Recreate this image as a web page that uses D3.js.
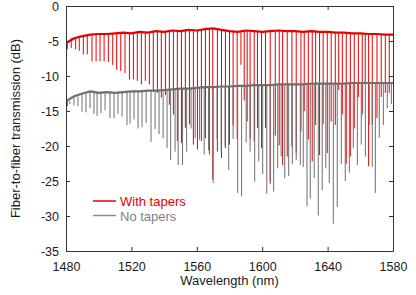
<!DOCTYPE html>
<html>
<head>
<meta charset="utf-8">
<script src="https://cdn.jsdelivr.net/npm/d3@7"></script>
<style>
  body { margin: 0; background: #fff; }
  svg { font-family: "Liberation Sans", Arial, sans-serif; }
</style>
</head>
<body>
<div id="chart"></div>
<script>
// tick labels (the last one really reads 1580 in the figure)
const xTickVals = [1480, 1520, 1560, 1600, 1640, 1680];
const xTickLabels = ["1480", "1520", "1560", "1600", "1640", "1580"];
const yTickVals = [0, -5, -10, -15, -20, -25, -30, -35];

// baseline of both traces, sampled every 5 nm
const baseNm = [1480,1485,1490,1495,1500,1505,1510,1515,1520,1525,1530,1535,1540,1545,1550,1555,1560,1565,1570,1575,
  1580,1585,1590,1595,1600,1605,1610,1615,1620,1625,1630,1635,1640,1645,1650,1655,1660,1665,1670,1675,1680];
const redBase = [-5.3,-4.6,-4.3,-4.1,-4.0,-4.0,-3.9,-3.8,-3.9,-3.7,-3.8,-3.6,-3.7,-3.5,-3.6,-3.4,-3.5,-3.3,-3.2,-3.4,
  -3.6,-3.7,-3.5,-3.6,-3.7,-3.6,-3.5,-3.6,-3.6,-3.7,-3.6,-3.7,-3.7,-3.8,-3.8,-3.9,-3.9,-4.0,-4.0,-4.1,-4.1];
const grayBase = [-13.6,-12.9,-12.5,-12.2,-12.4,-12.3,-12.4,-12.3,-12.2,-12.2,-12.1,-12.1,-12.0,-11.9,-11.8,-11.8,-11.7,-11.6,-11.6,-11.5,
  -11.5,-11.4,-11.4,-11.3,-11.3,-11.3,-11.2,-11.2,-11.2,-11.2,-11.1,-11.1,-11.1,-11.1,-11.1,-11.0,-11.0,-11.0,-11.0,-11.0,-11.0];

// resonance dips, "With tapers"
const redDipNm = [1480.8,1483.2,1485.9,1488.1,1490.6,1493.0,1495.9,1498.4,1500.8,1503.3,
  1505.9,1508.6,1511.0,1513.5,1516.1,1518.8,1521.2,1523.6,1526.1,1528.5,
  1531.0,1533.4,1535.9,1538.3,1540.8,1543.2,1545.7,1548.1,1550.6,1553.0,
  1555.5,1557.9,1560.4,1562.8,1565.3,1567.7,1569.8,1572.6,1575.1,1577.5,
  1580.0,1582.2,1584.7,1587.0,1589.0,1590.8,1592.6,1595.1,1597.1,1599.6,
  1602.0,1604.9,1608.0,1610.4,1612.5,1615.3,1618.2,1620.8,1623.7,1625.7,
  1628.2,1630.6,1632.7,1635.1,1637.3,1639.8,1642.2,1644.7,1646.8,1649.0,
  1651.4,1653.9,1656.3,1658.8,1661.2,1663.0,1665.1,1667.3,1670.2,1672.8,
  1675.3,1677.7];
const redDipDb = [-6.2,-6.0,-6.2,-6.4,-6.9,-6.9,-7.9,-7.9,-7.9,-7.9,
  -8.0,-8.4,-9.1,-9.3,-9.6,-10.5,-10.5,-10.7,-11.2,-10.7,
  -11.2,-12.0,-12.4,-13.1,-12.7,-14.1,-15.5,-19.3,-19.6,-17.4,
  -16.9,-19.8,-20.5,-19.3,-18.9,-21.2,-24.8,-20.8,-21.7,-20.3,
  -19.8,-17.0,-19.0,-8.4,-13.5,-16.5,-18.9,-19.3,-17.4,-20.3,
  -17.4,-25.4,-18.5,-19.9,-22.7,-21.5,-20.1,-21.0,-17.9,-15.0,
  -19.1,-22.2,-17.0,-21.3,-16.9,-21.0,-16.5,-17.0,-12.0,-15.5,
  -22.5,-21.5,-17.5,-13.0,-15.5,-11.0,-22.9,-16.9,-16.0,-13.0,
  -12.4,-12.4];

// resonance dips, "No tapers"
const grayDipNm = [1480.9,1482.4,1484.9,1487.3,1489.8,1492.2,1494.7,1497.1,1499.0,1501.4,
  1503.9,1506.9,1509.4,1511.8,1514.3,1517.3,1519.2,1521.6,1524.1,1526.5,
  1529.0,1532.0,1534.5,1536.9,1539.4,1541.8,1544.0,1546.7,1548.6,1551.3,
  1553.8,1556.5,1559.0,1561.7,1564.5,1567.2,1570.0,1572.4,1574.9,1577.3,
  1579.5,1582.2,1585.0,1587.4,1590.2,1592.6,1595.4,1597.9,1600.3,1602.8,
  1604.9,1607.0,1609.5,1611.6,1613.8,1616.2,1618.4,1620.8,1623.3,1625.1,
  1627.4,1629.4,1631.8,1634.3,1636.7,1638.9,1641.0,1643.5,1645.9,1648.4,
  1650.8,1653.3,1655.7,1658.2,1660.6,1663.1,1665.5,1667.3,1669.2,1671.6,
  1674.1,1676.5,1679.0];
const grayDipDb = [-14.3,-14.0,-14.2,-14.3,-15.1,-15.2,-14.6,-15.4,-15.7,-15.3,
  -14.9,-16.0,-16.0,-15.4,-15.8,-17.0,-16.8,-16.2,-17.5,-17.3,
  -16.7,-19.4,-17.6,-18.3,-18.9,-20.3,-22.0,-20.8,-22.7,-22.7,
  -20.8,-17.5,-18.9,-19.1,-21.2,-20.6,-25.3,-19.0,-20.8,-20.0,
  -23.4,-19.0,-26.7,-27.2,-19.5,-20.8,-25.1,-22.2,-24.0,-26.8,
  -25.0,-26.5,-23.2,-21.5,-24.6,-24.3,-22.6,-22.0,-22.7,-23.0,
  -28.6,-27.5,-24.6,-29.9,-26.3,-23.2,-25.3,-31.1,-28.7,-22.6,
  -25.0,-23.8,-20.3,-22.7,-19.8,-21.5,-17.0,-23.0,-26.7,-18.8,
  -17.0,-14.6,-14.0];

const seriesNames = ["With tapers", "No tapers"];
const seriesColors = ["#e60000", "#6e6e6e"];

let svgW = 416, svgH = 295;
let margin = {top: 6, right: 23, bottom: 44, left: 66};
let width = svgW - margin.left - margin.right,
    height = svgH - margin.top - margin.bottom;

let svg = d3.select("#chart").append("svg")
    .attr("width", svgW)
    .attr("height", svgH);

let g = svg.append("g")
    .attr("transform", "translate(" + margin.left + "," + margin.top + ")");

let x = d3.scaleLinear().domain([1480, 1680]).range([0, width]);
let y = d3.scaleLinear().domain([-35, 0]).range([height, 0]);

g.append("clipPath").attr("id", "clip")
    .append("rect").attr("width", width).attr("height", height);

let plot = g.append("g").attr("clip-path", "url(#clip)");

// nearest baseline sample for a dip's upper end
function baseAt(base, nm) {
    let i = d3.minIndex(baseNm, d => Math.abs(d - nm));
    return base[i];
}

function drawTrace(base, dipNm, dipDb, color) {
    let line = d3.line()
        .x((d, i) => x(baseNm[i]))
        .y(d => y(d));

    let dips = dipNm.map((d, i) => ({nm: d, db: dipDb[i], top: baseAt(base, d)}));

    plot.append("g").selectAll("line")
        .data(dips)
        .enter()
        .append("line")
        .attr("x1", d => x(d.nm))
        .attr("x2", d => x(d.nm))
        .attr("y1", d => y(d.top))
        .attr("y2", d => y(d.db))
        .attr("stroke", color)
        .attr("stroke-width", 1);

    plot.append("path")
        .datum(base)
        .attr("d", line)
        .attr("fill", "none")
        .attr("stroke", color)
        .attr("stroke-width", 2.2)
        .attr("stroke-linejoin", "round");
}

drawTrace(redBase, redDipNm, redDipDb, seriesColors[0]);
drawTrace(grayBase, grayDipNm, grayDipDb, seriesColors[1]);

// axes, MATLAB box style with inward ticks
let axisColor = "#333";
let xAxis = d3.axisBottom(x).tickValues(xTickVals)
    .tickFormat((d, i) => xTickLabels[i]).tickSizeInner(-4).tickSizeOuter(0).tickPadding(11);
let yAxis = d3.axisLeft(y).tickValues(yTickVals)
    .tickFormat(d => d).tickSizeInner(-4).tickSizeOuter(0).tickPadding(7);

let gx = g.append("g").attr("transform", "translate(0," + height + ")").call(xAxis);
let gy = g.append("g").call(yAxis);
g.append("g").call(d3.axisTop(x).tickValues(xTickVals).tickFormat("").tickSizeInner(-4).tickSizeOuter(0));
g.append("g").attr("transform", "translate(" + width + ",0)")
    .call(d3.axisRight(y).tickValues(yTickVals).tickFormat("").tickSizeInner(-4).tickSizeOuter(0));

g.selectAll(".domain, .tick line").attr("stroke", axisColor);
g.selectAll(".tick text").attr("fill", "#1a1a1a").style("font-size", "12.5px");

// axis titles
g.append("text")
    .attr("x", width / 2)
    .attr("y", height + 34)
    .attr("text-anchor", "middle")
    .attr("fill", "#1a1a1a")
    .style("font-size", "13px")
    .text("Wavelength (nm)");

g.append("text")
    .attr("transform", "translate(" + (-46) + "," + (height / 2) + ") rotate(-90)")
    .attr("text-anchor", "middle")
    .attr("fill", "#1a1a1a")
    .style("font-size", "13px")
    .text("Fiber-to-fiber transmission (dB)");

// legend
let legend = g.append("g").attr("transform", "translate(27,195)");
let items = legend.selectAll("g").data(seriesNames).enter().append("g")
    .attr("transform", (d, i) => "translate(0," + (i * 14.5) + ")");
items.append("line")
    .attr("x1", 0).attr("x2", 23)
    .attr("stroke", (d, i) => i == 0 ? seriesColors[0] : "#8c8c8c")
    .attr("stroke-width", 1.5);
items.append("text")
    .attr("x", 27).attr("y", 5)
    .attr("fill", (d, i) => i == 0 ? seriesColors[0] : "#808080")
    .style("font-size", "13px")
    .text(d => d);
</script>
</body>
</html>
